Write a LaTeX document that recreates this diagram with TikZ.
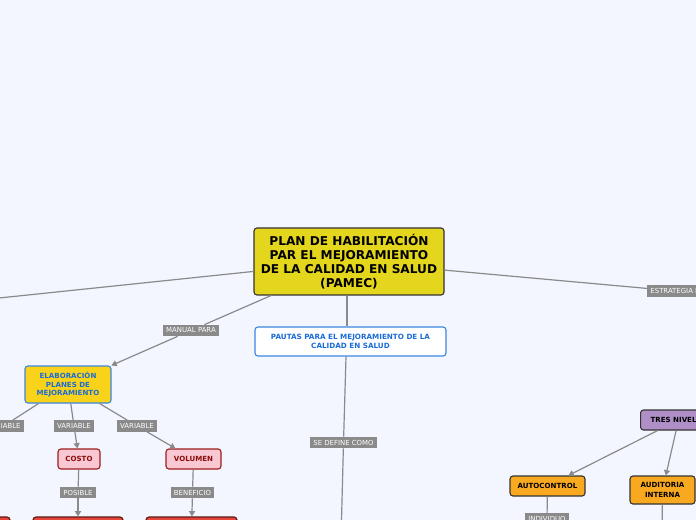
\documentclass[tikz,border=0pt]{standalone}
\usepackage{fontspec}
\setmainfont{DejaVu Sans}
\usetikzlibrary{arrows.meta}
\definecolor{bg}{HTML}{F3F6FE}
\definecolor{linec}{HTML}{8A8A8A}
\definecolor{mainy}{HTML}{E3D61C}
\definecolor{blueb}{HTML}{3A87E0}
\definecolor{bluet}{HTML}{1B6CD6}
\definecolor{elaby}{HTML}{F8D31A}
\definecolor{pinkf}{HTML}{F9C8D2}
\definecolor{pinkb}{HTML}{9E1C1C}
\definecolor{pinkt}{HTML}{8B0D0D}
\definecolor{redf}{HTML}{E8453A}
\definecolor{redb}{HTML}{5A1A14}
\definecolor{purf}{HTML}{B08FC8}
\definecolor{oraf}{HTML}{F9A920}
\definecolor{darkb}{HTML}{333333}
\tikzset{
  box/.style={draw, rounded corners=2.2pt, line width=0.8pt, align=center, inner sep=1pt, font=\bfseries\fontsize{5.3}{7}\selectfont},
  lbl/.style={fill=linec, text=white, inner xsep=2.4pt, inner ysep=1.5pt, minimum height=8.4pt, font=\fontsize{5.2}{6}\selectfont},
  conn/.style={draw=linec, line width=0.9pt},
  arr/.style={conn, -{Triangle[width=4.5pt,length=4pt]}},
}
\begin{document}
\begin{tikzpicture}[x=0.75pt,y=-0.75pt]
\useasboundingbox (0,0) rectangle (696,520);
\fill[bg] (0,0) rectangle (696,520);
\clip (0,0) rectangle (696,520);

% nodes
\node[box, fill=mainy, draw=darkb, minimum width=142.5pt, minimum height=50.25pt, font=\bfseries\fontsize{9.1}{10.5}\selectfont] (main) at (349,261.5)
  {PLAN DE HABILITACIÓN\\PAR EL MEJORAMIENTO\\DE LA CALIDAD EN SALUD\\(PAMEC)};
\node[box, fill=white, draw=blueb, text=bluet, minimum width=143.25pt, minimum height=21.75pt, font=\bfseries\fontsize{5.4}{6.9}\selectfont] (pautas) at (350.5,341.5)
  {PAUTAS PARA EL MEJORAMIENTO DE LA\\CALIDAD EN SALUD};
\node[box, fill=elaby, draw=blueb, text=bluet, minimum width=64.5pt, minimum height=27.75pt, font=\bfseries\fontsize{5.3}{6.6}\selectfont] (elab) at (68,384.5)
  {ELABORACIÓN\\PLANES DE\\MEJORAMIENTO};
\node[box, fill=pinkf, draw=pinkb, text=pinkt, minimum width=31.5pt, minimum height=15pt] (costo) at (79,459) {COSTO};
\node[box, fill=pinkf, draw=pinkb, text=pinkt, minimum width=41.25pt, minimum height=15pt] (volumen) at (193.5,459) {VOLUMEN};
\node[box, fill=redf, draw=redb, minimum width=67.5pt, minimum height=22.5pt] (red1) at (78,532) {};
\node[box, fill=redf, draw=redb, minimum width=68.25pt, minimum height=22.5pt] (red2) at (191.5,532) {};
\node[box, fill=redf, draw=redb, minimum width=67.5pt, minimum height=22.5pt] (red0) at (-35,532) {};
\node[box, fill=purf, draw=darkb, minimum width=57pt, minimum height=15pt, anchor=west] (tres) at (640,420) {TRES NIVELES};
\node[box, fill=oraf, draw=darkb, minimum width=56.25pt, minimum height=15pt] (auto) at (547.5,486) {AUTOCONTROL};
\node[box, fill=oraf, draw=darkb, minimum width=48.75pt, minimum height=21pt] (audit) at (662.5,490) {AUDITORIA\\INTERNA};

% labels
\node[lbl] (lmanual) at (191,330.5) {MANUAL PARA};
\node[lbl, anchor=west] (lestr) at (647,291) {ESTRATEGIA D};
\node[lbl] (ldefine) at (343.5,442.5) {SE DEFINE COMO};
\node[lbl, anchor=east] (lvar0) at (24,426) {VARIABLE};
\node[lbl] (lvar1) at (74,426) {VARIABLE};
\node[lbl] (lvar2) at (137,426) {VARIABLE};
\node[lbl] (lpos) at (78,492.5) {POSIBLE};
\node[lbl] (lben) at (192.5,492.5) {BENEFICIO};
\node[lbl] (lind) at (547,519) {INDIVIDUO};

\coordinate (offleft) at (-20,300);
\coordinate (offdefine) at (341,540);
\coordinate (offaudit) at (662,540);

% connectors
\path[conn] (main) -- (offleft);
\path[conn] (main) -- (lestr);
\path[conn] (main.south -| 347,0) -- (pautas.north -| 347,0);
\path[conn] (pautas.south -| 346,0) -- (ldefine);
\path[conn] (ldefine) -- (offdefine);
\path[conn] (main) -- (lmanual);
\path[arr] (lmanual) -- (elab);
\path[conn] (elab) -- (lvar0);
\path[conn] (elab) -- (lvar1);
\path[arr] (lvar1) -- (costo);
\path[conn] (elab) -- (lvar2);
\path[arr] (lvar2) -- (volumen);
\path[conn] (costo) -- (lpos);
\path[arr] (lpos) -- (red1);
\path[conn] (volumen) -- (lben);
\path[arr] (lben) -- (red2);
\path[arr] (tres) -- (auto);
\path[arr] (tres) -- (audit);
\path[conn] (auto) -- (lind);
\path[conn] (audit) -- (offaudit);
\end{tikzpicture}
\end{document}
